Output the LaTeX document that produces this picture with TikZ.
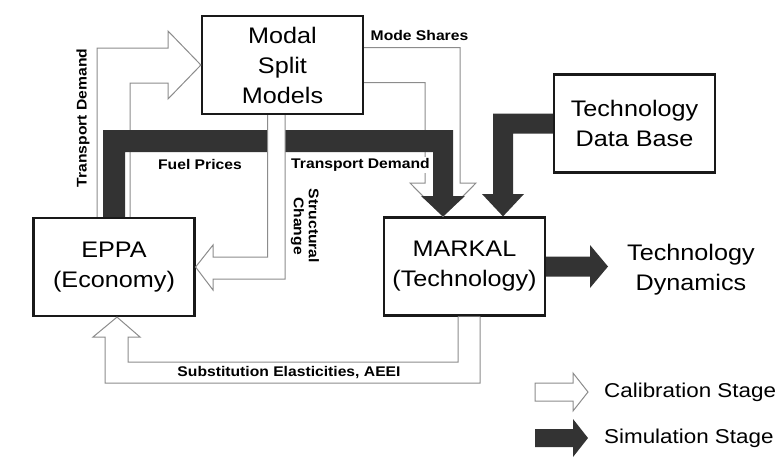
\documentclass[tikz,border=0pt]{standalone}
\usepackage{fontspec}
\setmainfont[FakeStretch=1.12]{Liberation Sans}
\usetikzlibrary{calc}
\definecolor{simgray}{rgb}{0.2,0.2,0.2}
\definecolor{calgray}{rgb}{0.55,0.55,0.55}
\newcommand\boxfont{\fontsize{22.5}{30}\selectfont}
\newcommand\labfont{\bfseries\fontsize{14}{15}\selectfont}
\newcommand\legfont{\fontsize{20}{24}\selectfont}
\tikzset{
  box/.style={draw=black!90,line width=2.2pt,align=center,minimum width=161pt,minimum height=98pt,fill=white,font=\boxfont},
  calib/.style={draw=calgray,line width=1pt,fill=white},
  simul/.style={fill=simgray},
  lab/.style={font=\labfont,inner sep=1pt,fill=white},
}
\begin{document}
\begin{tikzpicture}[x=1pt,y=-1pt]
\useasboundingbox (0,0) rectangle (779,459);
\node[box] (msm) at (282.5,65) {Modal\\Split\\Models};
\node[box] (eppa) at (114,267) {EPPA\\(Economy)};
\node[box] (markal) at (464.5,266.5) {MARKAL\\(Technology)};
\node[box] (tdb) at (634.5,123.5) {Technology\\Data Base};
\node[font=\boxfont,align=center,inner sep=0pt,anchor=west] (dyn) at (627,269.5) {Technology\\Dynamics};

\draw[calib] ($(eppa.north)+(-17,0)$) |- (168,48) -- (168,31) -- (msm.west) -- (168,99) -- (168,83) -| ($(eppa.north)+(16,0)$);
\draw[calib] ($(msm.east)+(0,-17.5)$) -| (460,183) -- (476,183) -- ($(markal.north)+(-21.5,0)$) -- (410,183) -- (425,183) |- ($(msm.east)+(0,17.5)$);
\draw[calib] ($(markal.south)+(-6.5,0)$) |- (128,362) -- (128,337) -- (140,337) -- ($(eppa.south)+(3,0)$) -- (93,337) -- (105,337) |- (480,383) -- ($(markal.south)+(15.5,0)$);

\fill[simul] ($(eppa.north)+(-11,0)$) |- (453,130) -- (453,196) -- (465,196) -- ($(markal.north)+(-21.5,0)$) -- (421,196) -- (433,196) |- (125,152) -- ($(eppa.north)+(11,0)$) -- cycle;
\fill[simul] ($(tdb.west)+(0,-10)$) -| (493,194) -- (482,194) -- ($(markal.north)+(38.5,0)$) -- (524,194) -- (513,194) |- ($(tdb.west)+(0,10)$) -- cycle;
\fill[simul] ($(markal.east)+(0,-10)$) -- (590,256.5) -- (590,245) -- ($(markal.east -| dyn.west)+(-19,0)$) -- (590,288) -- (590,276.5) -- ($(markal.east)+(0,10)$) -- cycle;

\draw[calib] ($(msm.south)+(-15,0)$) |- (213,257) -- (213,245) -- (eppa.east) -- (213,290) -- (213,279) -| ($(msm.south)+(2.5,0)$);

\node[lab,rotate=90] (tdlab) at (83,118) {Transport Demand};
\node[lab] (mslab) at (419.5,35) {Mode Shares};
\node[lab] (fplab) at (200,164) {Fuel Prices};
\node[lab] (tdlabb) at (360.5,165) {Transport Demand};
\node[lab,rotate=-90,align=center] (sclab) at (305,226) {Structural\\Change};
\node[lab] (selab) at (289,373) {Substitution Elasticities, AEEI};

\node[font=\legfont,anchor=west,inner sep=0pt] (callab) at (604,392) {Calibration Stage};
\node[font=\legfont,anchor=west,inner sep=0pt] (simlab) at (604,438) {Simulation Stage};
\draw[calib] ($(callab.west)+(-16,0)$) -- ++(-15,-19) -- ++(0,10) -- ++(-38,0) -- ++(0,18) -- ++(38,0) -- ++(0,10) -- cycle;
\fill[simul] ($(simlab.west)+(-16,0)$) -- ++(-15,-19) -- ++(0,10) -- ++(-38,0) -- ++(0,18) -- ++(38,0) -- ++(0,10) -- cycle;
\end{tikzpicture}
\end{document}
